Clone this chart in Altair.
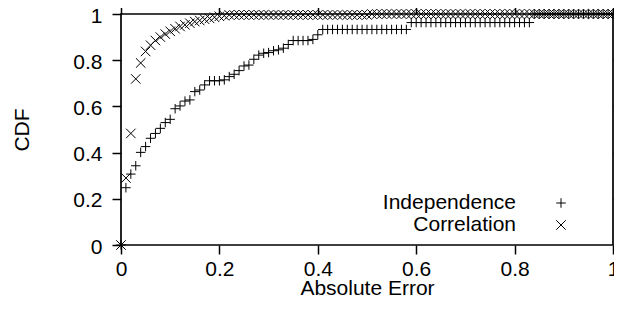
import altair as alt
import pandas as pd

# x grid of the evaluated CDF (step 0.01)
x_values = [round(i * 0.01, 2) for i in range(101)]

independence = (
    [0.0, 0.248, 0.307, 0.343, 0.401, 0.426, 0.462, 0.483, 0.505, 0.530,
     0.544, 0.590, 0.602, 0.623, 0.628, 0.664, 0.671, 0.693, 0.711, 0.711,
     0.711, 0.715, 0.729, 0.739, 0.755, 0.775, 0.779, 0.804, 0.822, 0.830,
     0.833, 0.841, 0.845, 0.852, 0.868, 0.885, 0.885, 0.885, 0.885, 0.890,
     0.910]
    + [0.933] * 18
    + [0.963] * 25
    + [1.0] * 17
)

correlation = (
    [0.0, 0.290, 0.483, 0.719, 0.788, 0.838, 0.865, 0.885, 0.900, 0.913,
     0.925, 0.936, 0.946, 0.953, 0.960, 0.967, 0.972, 0.977, 0.981, 0.986,
     0.990, 0.993]
    + [0.996] * 29
    + [1.0] * 50
)

series_names = ["Independence", "Correlation"]
x_ticks = [0, 0.2, 0.4, 0.6, 0.8, 1]
y_ticks = [0, 0.2, 0.4, 0.6, 0.8, 1]

df = pd.DataFrame({"x": x_values, "indep": independence, "corr": correlation})

FONT = "Liberation Sans"
FS = 21
PLUS = "M-1,0L1,0M0,-1L0,1"
CROSS = "M-1,-1L1,1M-1,1L1,-1"

W = 492
H = 231

xscale = alt.Scale(domain=[0, 1], nice=False, zero=False)
yscale = alt.Scale(domain=[0, 1], nice=False, zero=False)

common_tick = dict(domain=False, grid=False, ticks=True, tickSize=9,
                   tickWidth=1.5, tickColor="black")

bottom_axis = alt.Axis(
    orient="bottom", values=x_ticks, format="~g", labelFont=FONT,
    labelFontSize=FS, labelColor="black", labelPadding=4, labelFlush=False,
    labelOverlap=False, title="Absolute Error", titleFont=FONT,
    titleFontSize=FS, titleFontWeight="normal", titleColor="black",
    titleY=43, titleBaseline="middle", **common_tick)
top_axis = alt.Axis(orient="top", values=x_ticks, labels=False, title="",
                    **common_tick)
left_axis = alt.Axis(
    orient="left", values=y_ticks, format="~g", labelFont=FONT,
    labelFontSize=FS, labelColor="black", labelPadding=10, labelFlush=False,
    labelOverlap=False, labelOffset=2, title="CDF", titleFont=FONT,
    titleFontSize=FS, titleFontWeight="normal", titleColor="black",
    titleX=-99, titleY=H / 2, titleAngle=270, titleAlign="center",
    titleBaseline="middle", **common_tick)
right_axis = alt.Axis(orient="right", values=y_ticks, labels=False, title="",
                      **common_tick)

pt = dict(filled=False, color="black", strokeWidth=1, size=90, opacity=1)

indep_layer = alt.Chart(df).mark_point(shape=PLUS, **pt).encode(
    x=alt.X("x:Q", scale=xscale, axis=bottom_axis),
    y=alt.Y("indep:Q", scale=yscale, axis=left_axis),
)
corr_layer = alt.Chart(df).mark_point(shape=CROSS, **pt).encode(
    x=alt.X("x:Q", scale=xscale, axis=top_axis),
    y=alt.Y("corr:Q", scale=yscale, axis=right_axis),
)

legend_layers = []
for name, shape, ypos in [(series_names[0], PLUS, 189), (series_names[1], CROSS, 211)]:
    ld = pd.DataFrame({"label": [name]})
    legend_layers.append(
        alt.Chart(ld).mark_text(align="right", baseline="middle", font=FONT,
                                fontSize=FS, color="black").encode(
            x=alt.value(395), y=alt.value(ypos), text="label:N"))
    legend_layers.append(
        alt.Chart(ld).mark_point(shape=shape, **pt).encode(
            x=alt.value(440), y=alt.value(ypos)))

chart = alt.layer(indep_layer, corr_layer, *legend_layers).resolve_axis(
    x="independent", y="independent"
).properties(
    width=W, height=H,
    autosize=alt.AutoSizeParams(type="none"),
    padding={"left": 113, "top": 6, "right": 1, "bottom": 63},
).configure_view(stroke="black", strokeWidth=1.7)

chart.save("out.html", embed_options={"renderer": "svg", "actions": False})
